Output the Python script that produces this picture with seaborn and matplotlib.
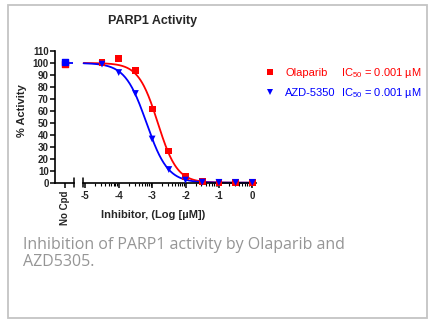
import numpy as np
import pandas as pd
import matplotlib
matplotlib.use("Agg")
import matplotlib.pyplot as plt
import matplotlib.patches as mpatches
from matplotlib.lines import Line2D
import seaborn as sns

# ---- data ----
log_conc = [-4.5, -4.0, -3.5, -3.0, -2.5, -2.0, -1.5, -1.0, -0.5, 0.0]
olaparib = [100.5, 103.5, 93.5, 61.5, 26.5, 5.0, 0.7, 0.3, 0.5, 0.3]
azd5350 = [99.0, 92.0, 74.5, 36.5, 11.0, 2.2, 0.5, 0.3, 0.3, 0.3]
nocpd_olaparib = [99.0]
nocpd_azd = [101.0]
compounds = ["Olaparib", "AZD-5350"]
ic50_labels = ["IC$_{50}$ = 0.001 µM", "IC$_{50}$ = 0.001 µM"]
colors = ["#ff0000", "#0000ff"]
yticks = list(range(0, 111, 10))
xticks = [-5, -4, -3, -2, -1, 0]
title = "PARP1 Activity"
ylabel = "% Activity"
xlabel = "Inhibitor, (Log [µM])"
nocpd_label = "No Cpd"
caption = "Inhibition of PARP1 activity by Olaparib and\nAZD5305."

sns.set_theme(style="white")
plt.rcParams["font.family"] = ["Liberation Sans", "DejaVu Sans"]
plt.rcParams["mathtext.default"] = "regular"

W, H = 435, 325
fig = plt.figure(figsize=(W / 100, H / 100), dpi=100)


def fx(px):
    return px / W


def fy(py):
    return 1 - py / H


# card border
fig.patches.append(mpatches.Rectangle((fx(8), fy(318)), fx(419), 313 / H,
                                      transform=fig.transFigure, fill=False,
                                      edgecolor="#c4c4c4", linewidth=1.3))

y_top, y_bot = 51, 182.7
ax0 = fig.add_axes([fx(55), fy(y_bot), fx(19), (y_bot - y_top) / H])
ax1 = fig.add_axes([fx(83.3), fy(y_bot), fx(172.7), (y_bot - y_top) / H])

df = pd.DataFrame({
    "logc": log_conc * 2,
    "act": olaparib + azd5350,
    "cpd": [compounds[0]] * len(log_conc) + [compounds[1]] * len(log_conc),
})


def fit4pl(x, y):
    x = np.asarray(x); y = np.asarray(y)
    best = None
    for lc in np.linspace(-4.5, -1.5, 301):
        for h in np.linspace(0.5, 3.0, 126):
            pred = 100 / (1 + 10 ** (h * (x - lc)))
            sse = np.sum((pred - y) ** 2)
            if best is None or sse < best[0]:
                best = (sse, lc, h)
    return best[1], best[2]


xlo, xhi = -5.06, 0.11
xs = np.linspace(xlo + 0.01, 0.0, 300)
curves = []
for name, vals in zip(compounds, [olaparib, azd5350]):
    lc, h = fit4pl(log_conc, vals)
    curves.append(pd.DataFrame({"logc": xs, "act": 100 / (1 + 10 ** (h * (xs - lc))), "cpd": name}))
curve_df = pd.concat(curves)

pal = dict(zip(compounds, colors))
sns.lineplot(data=curve_df, x="logc", y="act", hue="cpd", palette=pal, ax=ax1,
             legend=False, linewidth=1.3, clip_on=False)
sns.scatterplot(data=df, x="logc", y="act", hue="cpd", style="cpd",
                markers={compounds[0]: "s", compounds[1]: "v"}, palette=pal,
                s=24, edgecolor="none", ax=ax1, legend=False, clip_on=False, zorder=3)

# No compound controls
nc_x = 0.54
ax0.hlines(np.mean(nocpd_olaparib + nocpd_azd), nc_x, 0.95, color=colors[1], linewidth=1.3)
ax0.scatter([nc_x] * len(nocpd_olaparib), nocpd_olaparib, marker="s", s=24, color=colors[0], clip_on=False, zorder=3)
ax0.scatter([nc_x] * len(nocpd_azd), nocpd_azd, marker="s", s=24, color=colors[1], clip_on=False, zorder=3)

for ax in (ax0, ax1):
    ax.set_ylim(0, 110)
    ax.set_facecolor("none")
    ax.set_xlabel("")
    ax.set_ylabel("")
    for s in ["top", "right"]:
        ax.spines[s].set_visible(False)
    ax.spines["bottom"].set_color("black")
    ax.spines["bottom"].set_linewidth(1.2)

ax0.set_xlim(0, 1)
ax0.spines["left"].set_color("black")
ax0.spines["left"].set_linewidth(1.2)
ax0.set_yticks(yticks)
ax0.set_yticklabels([str(t) for t in yticks], fontsize=7, fontweight="bold")
ax0.tick_params(axis="y", direction="out", length=3.5, width=1.1, pad=1, left=True, color="black")
ax0.set_xticks([nc_x])
ax0.set_xticklabels([nocpd_label], rotation=90, fontsize=7, fontweight="bold", va="top")
ax0.tick_params(axis="x", direction="out", length=3.5, width=1.1, pad=2, bottom=True, color="black")

ax1.spines["left"].set_visible(False)
ax1.set_yticks([])
ax1.set_xlim(xlo, xhi)
ax1.set_xticks(xticks)
ax1.set_xticklabels([str(t) for t in xticks], fontsize=7, fontweight="bold")
minor = [d + np.log10(k) for d in range(-5, 0) for k in range(2, 10)]
ax1.set_xticks(minor, minor=True)
ax1.tick_params(axis="x", which="major", direction="out", length=3.5, width=1.1, pad=2.5, bottom=True, color="black")
ax1.tick_params(axis="x", which="minor", direction="out", length=2, width=0.8, bottom=True, color="black")

# axis break marks
for ax, xa in ((ax0, 1.0), (ax1, 0.0)):
    ax.plot([xa, xa], [-0.035, 0.035], transform=ax.transAxes, color="black",
            linewidth=1.1, clip_on=False)

# texts
fig.text(fx(153), fy(21), title, ha="center", va="center", fontsize=9, fontweight="bold")
fig.text(fx(22), fy(111), ylabel, ha="center", va="center", rotation=90, fontsize=8, fontweight="bold")
fig.text(fx(153), fy(215), xlabel, ha="center", va="center", fontsize=8, fontweight="bold")

# legend
handles = [Line2D([], [], linestyle="none", marker="s", markersize=5, color=colors[0], markeredgewidth=0),
           Line2D([], [], linestyle="none", marker="v", markersize=5, color=colors[1], markeredgewidth=0)]
leg = fig.legend(handles, compounds, loc="upper left", bbox_to_anchor=(fx(264), fy(68)),
                 frameon=False, fontsize=8, handlelength=1.0, handletextpad=0.9,
                 labelspacing=0.9, borderpad=0, borderaxespad=0, labelcolor=colors)
for i, (lab, c) in enumerate(zip(ic50_labels, colors)):
    fig.text(fx(341), fy(73 + 20 * i), lab, ha="left", va="center", fontsize=8, color=c)

fig.text(fx(23), fy(266), caption, ha="left", va="baseline", fontsize=11.5,
         color="#959595", family=["Open Sans", "DejaVu Sans"], linespacing=1.05)

fig.savefig("out.png", dpi=100)
